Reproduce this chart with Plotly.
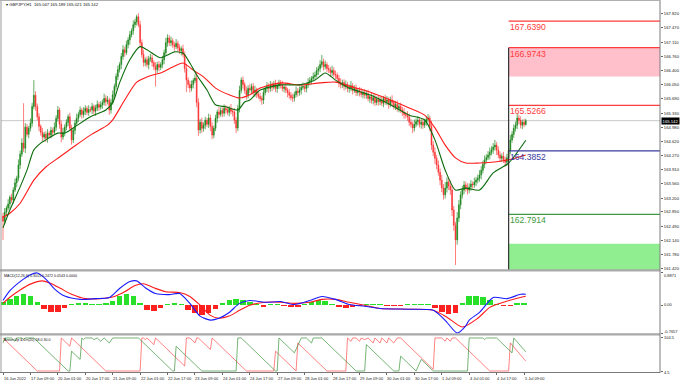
import plotly.graph_objects as go

# ---------------- data ----------------
bar_index = list(range(306))

opens = [
    162.75, 162.62, 162.85, 162.95, 163.05, 163.22, 163.15, 163.40, 163.58, 163.70,
    164.03, 164.30, 164.58, 164.45, 164.98, 164.80, 164.95, 165.08, 165.50, 165.78,
    165.50, 165.24, 165.00, 164.85, 164.73, 164.80, 164.70, 164.83, 164.78, 164.90,
    164.85, 164.98, 165.20, 165.41, 165.05, 164.73, 164.85, 164.98, 165.10, 165.24,
    164.95, 164.66, 164.90, 165.08, 165.20, 165.30, 165.41, 165.30, 165.38, 165.45,
    165.35, 165.42, 165.41, 165.50, 165.38, 165.46, 165.55, 165.48, 165.54, 165.60,
    165.70, 165.62, 165.66, 165.41, 165.60, 165.79, 166.00, 166.25, 166.42, 166.55,
    166.75, 166.92, 166.85, 167.05, 167.17, 167.30, 167.40, 167.55, 167.62, 167.75,
    167.55, 167.10, 166.80, 166.60, 166.67, 166.55, 166.70, 166.72, 166.60, 166.50,
    166.42, 166.55, 166.48, 166.55, 166.67, 166.85, 167.10, 167.22, 167.10, 167.15,
    167.04, 167.00, 167.08, 166.97, 166.90, 166.95, 166.80, 166.45, 166.16, 166.05,
    165.96, 166.05, 166.15, 166.21, 165.60, 164.91, 165.10, 164.95, 165.03, 165.15,
    165.05, 165.21, 165.00, 164.78, 164.95, 165.20, 165.36, 165.30, 165.40, 165.33,
    165.45, 165.41, 165.35, 165.45, 165.38, 165.36, 165.15, 164.96, 165.45, 165.90,
    166.16, 166.05, 165.90, 165.79, 165.95, 165.91, 166.00, 165.85, 165.91, 165.80,
    165.75, 165.70, 165.66, 165.85, 165.95, 166.00, 165.95, 166.04, 165.98, 166.05,
    165.95, 166.02, 166.08, 166.04, 165.95, 165.98, 165.91, 165.85, 165.78, 165.72,
    165.71, 165.80, 165.88, 165.85, 165.91, 165.98, 166.00, 165.95, 166.04, 166.10,
    166.15, 166.20, 166.25, 166.29, 166.40, 166.45, 166.55, 166.62, 166.50, 166.55,
    166.45, 166.42, 166.35, 166.40, 166.30, 166.29, 166.20, 166.10, 166.04, 166.10,
    166.00, 166.05, 165.95, 165.96, 166.02, 165.90, 165.95, 165.85, 165.90, 165.86,
    165.80, 165.85, 165.78, 165.82, 165.70, 165.74, 165.65, 165.72, 165.60, 165.68,
    165.62, 165.66, 165.58, 165.70, 165.62, 165.66, 165.55, 165.66, 165.60, 165.50,
    165.55, 165.45, 165.50, 165.41, 165.35, 165.30, 165.28, 165.24, 165.10, 165.05,
    164.96, 165.05, 165.12, 165.16, 165.05, 165.10, 165.03, 165.12, 165.18, 165.21,
    165.00, 164.53, 164.35, 164.20, 164.03, 163.85, 163.65, 163.45, 163.28, 163.45,
    163.60, 163.50, 163.40, 162.90, 162.52, 162.15, 162.70, 163.03, 163.28, 163.40,
    163.53, 163.45, 163.40, 163.48, 163.55, 163.53, 163.60, 163.65, 163.70, 163.78,
    163.90, 164.05, 164.16, 164.22, 164.28, 164.35, 164.41, 164.48, 164.53, 164.40,
    164.28, 164.20, 164.25, 164.16, 164.10, 164.21, 164.40, 164.66, 164.80, 164.95,
    165.03, 165.21, 165.15, 165.03, 165.10, 165.047,
]

closes = [
    162.62, 162.85, 162.95, 163.05, 163.22, 163.15, 163.40, 163.58, 163.70, 164.03,
    164.30, 164.58, 164.45, 164.98, 164.80, 164.95, 165.08, 165.50, 165.78, 165.50,
    165.24, 165.00, 164.85, 164.73, 164.80, 164.70, 164.83, 164.78, 164.90, 164.85,
    164.98, 165.20, 165.41, 165.05, 164.73, 164.85, 164.98, 165.10, 165.24, 164.95,
    164.66, 164.90, 165.08, 165.20, 165.30, 165.41, 165.30, 165.38, 165.45, 165.35,
    165.42, 165.41, 165.50, 165.38, 165.46, 165.55, 165.48, 165.54, 165.60, 165.70,
    165.62, 165.66, 165.41, 165.60, 165.79, 166.00, 166.25, 166.42, 166.55, 166.75,
    166.92, 166.85, 167.05, 167.17, 167.30, 167.40, 167.55, 167.62, 167.75, 167.55,
    167.10, 166.80, 166.60, 166.67, 166.55, 166.70, 166.72, 166.60, 166.50, 166.42,
    166.55, 166.48, 166.55, 166.67, 166.85, 167.10, 167.22, 167.10, 167.15, 167.04,
    167.00, 167.08, 166.97, 166.90, 166.95, 166.80, 166.45, 166.16, 166.05, 165.96,
    166.05, 166.15, 166.21, 165.60, 164.91, 165.10, 164.95, 165.03, 165.15, 165.05,
    165.21, 165.00, 164.78, 164.95, 165.20, 165.36, 165.30, 165.40, 165.33, 165.45,
    165.41, 165.35, 165.45, 165.38, 165.36, 165.15, 164.96, 165.45, 165.90, 166.16,
    166.05, 165.90, 165.79, 165.95, 165.91, 166.00, 165.85, 165.91, 165.80, 165.75,
    165.70, 165.66, 165.85, 165.95, 166.00, 165.95, 166.04, 165.98, 166.05, 165.95,
    166.02, 166.08, 166.04, 165.95, 165.98, 165.91, 165.85, 165.78, 165.72, 165.71,
    165.80, 165.88, 165.85, 165.91, 165.98, 166.00, 165.95, 166.04, 166.10, 166.15,
    166.20, 166.25, 166.29, 166.40, 166.45, 166.55, 166.62, 166.50, 166.55, 166.45,
    166.42, 166.35, 166.40, 166.30, 166.29, 166.20, 166.10, 166.04, 166.10, 166.00,
    166.05, 165.95, 165.96, 166.02, 165.90, 165.95, 165.85, 165.90, 165.86, 165.80,
    165.85, 165.78, 165.82, 165.70, 165.74, 165.65, 165.72, 165.60, 165.68, 165.62,
    165.66, 165.58, 165.70, 165.62, 165.66, 165.55, 165.66, 165.60, 165.50, 165.55,
    165.45, 165.50, 165.41, 165.35, 165.30, 165.28, 165.24, 165.10, 165.05, 164.96,
    165.05, 165.12, 165.16, 165.05, 165.10, 165.03, 165.12, 165.18, 165.21, 165.00,
    164.53, 164.35, 164.20, 164.03, 163.85, 163.65, 163.45, 163.28, 163.45, 163.60,
    163.50, 163.40, 162.90, 162.52, 162.15, 162.70, 163.03, 163.28, 163.40, 163.53,
    163.45, 163.40, 163.48, 163.55, 163.53, 163.60, 163.65, 163.70, 163.78, 163.90,
    164.05, 164.16, 164.22, 164.28, 164.35, 164.41, 164.48, 164.53, 164.40, 164.28,
    164.20, 164.25, 164.16, 164.10, 164.21, 164.40, 164.66, 164.80, 164.95, 165.03,
    165.21, 165.15, 165.03, 165.10, 165.047, 165.142,
]

# wick lengths above / below the candle body, in hundredths of a yen
upper_wick = [
    8, 10, 6, 12, 5, 9, 7, 11, 6, 14, 9, 12, 100, 10, 8, 6, 12, 9, 38, 10,
    7, 9, 5, 11, 6, 8, 10, 5, 9, 7, 12, 8, 10, 6, 9, 11, 7, 8, 6, 10,
    9, 6, 8, 12, 7, 9, 5, 10, 8, 6, 11, 7, 9, 5, 8, 10, 6, 9, 7, 12,
    8, 10, 6, 9, 11, 7, 8, 10, 6, 9, 12, 8, 10, 7, 9, 6, 11, 8, 5, 9,
    10, 8, 12, 6, 9, 7, 10, 8, 6, 11, 7, 9, 6, 10, 8, 12, 9, 7, 10, 6,
    8, 11, 7, 9, 6, 10, 8, 12, 7, 9, 10, 6, 9, 14, 10, 8, 12, 7, 9, 6,
    11, 8, 10, 7, 9, 6, 12, 8, 7, 10, 8, 9, 6, 11, 7, 10, 8, 9, 12, 7,
    9, 6, 10, 8, 12, 7, 9, 11, 6, 8, 10, 7, 9, 6, 11, 8, 10, 7, 9, 12,
    6, 9, 8, 10, 7, 11, 6, 9, 8, 10, 7, 12, 8, 9, 6, 10, 8, 7, 11, 9,
    6, 10, 8, 9, 7, 11, 17, 8, 10, 6, 9, 7, 12, 8, 10, 6, 9, 11, 7, 8,
    10, 6, 9, 12, 7, 8, 10, 6, 9, 11, 7, 9, 8, 10, 6, 12, 8, 9, 7, 10,
    8, 11, 6, 9, 10, 7, 8, 12, 6, 9, 10, 7, 9, 8, 11, 6, 10, 8, 9, 7,
    12, 8, 10, 6, 9, 11, 7, 8, 10, 6, 14, 10, 12, 8, 11, 9, 13, 10, 15, 12,
    10, 14, 12, 10, 8, 15, 12, 9, 11, 10, 8, 12, 9, 10, 7, 11, 8, 9, 12, 10,
    9, 11, 8, 10, 12, 9, 10, 13, 8, 10, 9, 7, 11, 8, 10, 9, 12, 8, 10, 9,
    11, 8, 10, 7, 9, 5,
]
lower_wick = [
    47, 8, 10, 6, 12, 7, 9, 5, 11, 8, 10, 7, 9, 12, 6, 10, 8, 9, 7, 11,
    9, 12, 8, 10, 6, 9, 11, 7, 8, 10, 6, 9, 8, 11, 13, 7, 10, 8, 9, 6,
    12, 8, 10, 7, 9, 6, 11, 8, 10, 7, 9, 6, 10, 8, 12, 7, 9, 6, 10, 8,
    11, 7, 12, 9, 6, 10, 8, 9, 7, 11, 8, 10, 6, 9, 12, 7, 10, 8, 9, 6,
    11, 8, 10, 9, 7, 12, 8, 10, 9, 42, 8, 10, 7, 9, 11, 6, 10, 8, 9, 7,
    10, 6, 9, 8, 12, 7, 10, 30, 9, 11, 8, 10, 6, 12, 15, 9, 11, 8, 10, 7,
    9, 12, 10, 8, 7, 11, 9, 6, 10, 8, 9, 7, 10, 8, 11, 9, 13, 8, 10, 7,
    10, 8, 12, 9, 7, 10, 8, 11, 9, 6, 8, 12, 10, 7, 9, 11, 8, 10, 6, 9,
    11, 8, 9, 7, 10, 8, 12, 9, 7, 10, 9, 7, 10, 8, 11, 6, 9, 10, 8, 7,
    10, 8, 9, 7, 11, 9, 8, 10, 7, 9, 8, 11, 9, 7, 10, 8, 12, 9, 8, 10,
    7, 9, 11, 8, 10, 6, 9, 8, 11, 7, 10, 8, 9, 7, 11, 8, 10, 9, 7, 10,
    9, 7, 10, 8, 9, 11, 7, 10, 8, 9, 8, 10, 7, 9, 11, 8, 10, 9, 8, 13,
    9, 7, 10, 8, 11, 9, 7, 10, 8, 12, 12, 10, 14, 11, 9, 13, 10, 12, 9, 11,
    10, 12, 15, 14, 63, 12, 10, 11, 9, 10, 9, 11, 8, 10, 9, 7, 10, 8, 9, 11,
    8, 10, 9, 7, 11, 8, 10, 9, 12, 8, 10, 9, 8, 11, 9, 8, 10, 7, 9, 8,
    10, 9, 8, 10, 7, 3,
]

# moving averages (sampled along the lines)
ma_fast_bars = [0, 4, 10, 14, 18, 22, 25, 32, 36, 41, 51, 60, 64, 68, 74, 80, 84, 92, 96, 100,
                105, 109, 113, 119, 124, 130, 137, 141, 144, 150, 162, 173, 182, 188, 194, 202,
                214, 226, 237, 246, 252, 258, 264, 270, 278, 286, 295, 305]
ma_fast_vals = [162.45, 162.90, 163.48, 163.90, 164.41, 164.58, 164.66, 164.83, 164.83, 164.96,
                165.24, 165.41, 165.59, 166.09, 166.67, 167.00, 166.92, 166.72, 166.79, 166.87,
                166.84, 166.59, 166.29, 165.91, 165.54, 165.49, 165.41, 165.61, 165.66, 165.91,
                166.04, 166.04, 166.16, 166.34, 166.16, 165.96, 165.79, 165.54, 165.28, 165.16,
                164.66, 163.90, 163.40, 163.45, 163.40, 163.83, 164.08, 164.65]
ma_slow_bars = [0, 4, 10, 18, 25, 33, 41, 51, 61, 64, 71, 78, 84, 93, 99, 105, 111, 117, 124, 132,
                138, 144, 150, 162, 173, 185, 194, 202, 214, 226, 237, 246, 252, 258, 264, 270,
                278, 288, 295, 305]
ma_slow_vals = [162.72, 162.82, 163.07, 163.65, 163.98, 164.23, 164.48, 164.78, 165.03, 165.16,
                165.66, 166.11, 166.24, 166.36, 166.49, 166.59, 166.41, 166.24, 165.96, 165.79,
                165.71, 165.79, 165.96, 166.09, 166.04, 166.09, 166.11, 166.01, 165.86, 165.66,
                165.46, 165.28, 164.96, 164.53, 164.21, 164.08, 164.08, 164.11, 164.16, 164.28]

# MACD(12,26,9)
macd_bars = [0, 4, 10, 16, 20, 25, 30, 36, 45, 54, 62, 68, 74, 78, 83, 89, 97, 103, 109, 115,
             121, 126, 132, 138, 144, 153, 162, 170, 179, 186, 194, 202, 211, 220, 237, 251,
             255, 259, 265, 270, 272, 278, 286, 294, 302, 305]
macd_vals = [0.13, 0.40, 0.65, 0.84, 0.887, 0.72, 0.45, 0.25, 0.16, 0.18, 0.21, 0.46, 0.65, 0.67,
             0.48, 0.32, 0.29, 0.32, 0.05, -0.30, -0.41, -0.36, -0.20, 0.05, 0.13, 0.08, 0.10,
             0.02, 0.13, 0.24, 0.16, 0.02, -0.03, -0.09, -0.11, -0.14, -0.28, -0.47, -0.7657,
             -0.57, -0.41, -0.20, 0.21, 0.18, 0.30, 0.3015]
signal_bars = [0, 4, 10, 16, 23, 28, 34, 40, 48, 57, 65, 71, 77, 82, 88, 95, 103, 109, 115, 121,
               126, 132, 138, 144, 153, 162, 170, 179, 186, 194, 202, 211, 220, 237, 251, 259,
               268, 277, 284, 292, 299, 305]
signal_vals = [0.05, 0.22, 0.42, 0.58, 0.67, 0.60, 0.45, 0.30, 0.18, 0.18, 0.24, 0.37, 0.54, 0.59,
               0.48, 0.37, 0.35, 0.24, 0.00, -0.28, -0.36, -0.30, -0.14, 0.00, 0.08, 0.08, 0.05,
               0.08, 0.16, 0.16, 0.08, 0.00, -0.09, -0.11, -0.14, -0.33, -0.60, -0.36, -0.06,
               0.08, 0.18, 0.2472]
hist_bars = list(range(0, 305, 4))
hist_vals = [0.10, 0.18, 0.25, 0.30, 0.25, 0.08, -0.10, -0.20, -0.18, -0.08,
             0.02, 0.05, 0.06, 0.04, 0.03, 0.06, 0.12, 0.25, 0.32, 0.25,
             0.05, -0.12, -0.15, -0.08, 0.04, 0.06, 0.02, -0.12, -0.22, -0.28,
             -0.22, -0.10, 0.05, 0.14, 0.17, 0.15, 0.08, 0.02, -0.04, 0.03,
             0.04, -0.02, -0.06, -0.04, 0.04, 0.10, 0.14, 0.12, 0.02, -0.06,
             -0.08, -0.06, -0.03, 0.02, 0.03, 0.02, -0.02, -0.03, -0.02, 0.02,
             0.03, 0.03, 0.02, -0.08, -0.18, -0.24, -0.22, 0.05, 0.26, 0.25,
             0.22, 0.15, 0.02, -0.03, -0.03, 0.06, 0.06]

# Aroon (vertices of the saw-tooth lines)
aroon_up_bars = [0, 1, 5, 7, 8, 11, 12, 13, 18, 38, 39, 40, 45, 46, 47, 48, 52, 53, 55, 57,
                 59, 61, 62, 64, 79, 99, 100, 101, 116, 136, 137, 139, 159, 160, 161, 166, 170,
                 174, 177, 180, 181, 186, 206, 211, 212, 228, 231, 232, 241, 244, 251, 271, 272,
                 280, 281, 282, 288, 296, 297, 298, 305]
aroon_up_vals = [85, 100, 100, 90, 100, 100, 95, 100, 100, 0, 0, 60, 35, 100, 95, 100, 100, 95,
                 100, 90, 100, 90, 85, 100, 100, 0, 0, 75, 0, 0, 100, 100, 0, 0, 100, 75, 55,
                 100, 100, 85, 100, 100, 0, 0, 80, 0, 0, 45, 0, 35, 0, 0, 100, 100, 95, 100,
                 100, 60, 55, 100, 58]
aroon_dn_bars = [0, 20, 33, 34, 39, 40, 60, 80, 81, 82, 83, 84, 88, 89, 106, 107, 109, 112,
                 113, 114, 121, 122, 142, 158, 159, 171, 172, 189, 200, 201, 203, 204, 206, 208,
                 209, 211, 213, 216, 217, 220, 221, 224, 225, 228, 230, 232, 251, 252, 256, 258,
                 259, 261, 262, 264, 284, 295, 296, 305]
aroon_dn_vals = [100, 0, 0, 100, 75, 100, 0, 0, 100, 100, 95, 100, 80, 100, 15, 100, 100, 85,
                 100, 100, 65, 100, 0, 0, 60, 0, 85, 0, 0, 100, 90, 100, 100, 90, 100, 95, 100,
                 85, 100, 85, 100, 85, 100, 85, 100, 100, 5, 100, 100, 90, 100, 90, 100, 100,
                 0, 0, 85, 30]

# axis labels
time_tick_bars = [0, 16, 32, 48, 64, 80, 96, 112, 128, 144, 160, 176, 192, 208, 224, 240, 256,
                  272, 288, 304]
time_tick_labels = ["16 Jun 2022", "17 Jun 09:00", "20 Jun 01:00", "20 Jun 17:00",
                    "21 Jun 09:00", "22 Jun 01:00", "22 Jun 17:00", "23 Jun 09:00",
                    "24 Jun 01:00", "24 Jun 17:00", "27 Jun 09:00", "28 Jun 01:00",
                    "28 Jun 17:00", "29 Jun 09:00", "30 Jun 01:00", "30 Jun 17:00",
                    "1 Jul 09:00", "4 Jul 01:00", "4 Jul 17:00", "5 Jul 09:00"]
price_ticks = [167.820, 167.470, 167.110, 166.760, 166.400, 166.050, 165.690, 165.330, 164.980,
               164.620, 164.270, 163.910, 163.560, 163.200, 162.850, 162.490, 162.140, 161.780,
               161.420]

# levels drawn from the start of 5 Jul
level_start_bar = 295
level_values = [167.6390, 166.9743, 165.5266, 164.3852, 162.7914]
level_colors = ["#ff3b3b", "#ff3b3b", "#ff3b3b", "#3a3aa0", "#3f9a3f"]
pink_zone = [166.25, 166.9743]
green_zone = [160.50, 162.05]
last_price = 165.142

# ---------------- geometry helpers ----------------
W, H = 680, 385
ML, MR, MT, MB = 1, 20, 1, 12
PW, PH = W - ML - MR, H - MT - MB
BOTTOM = H - MB
PX_PER_BAR = 1.714
X0 = 3


def ypap(ypx):
    return (BOTTOM - ypx) / PH


def xpap(xpx):
    return (xpx - ML) / PW


def dom(top_px, bot_px):
    return [ypap(bot_px), ypap(top_px)]


x_range = [(ML - X0) / PX_PER_BAR, (ML + PW - X0) / PX_PER_BAR]
main_range = [161.394, 168.146]
macd_range = [-0.793, 0.914]
aroon_range = [-3, 106]

highs = [round(max(o, c) + u / 100, 3) for o, c, u in zip(opens, closes, upper_wick)]
lows = [round(min(o, c) - d / 100, 3) for o, c, d in zip(opens, closes, lower_wick)]

FONT = "Liberation Sans, Arial, sans-serif"

fig = go.Figure()

fig.add_trace(go.Candlestick(
    x=bar_index, open=opens, high=highs, low=lows, close=closes,
    increasing=dict(line=dict(color="rgba(25,135,25,0.85)", width=0.8),
                    fillcolor="rgba(10,110,10,0.95)"),
    decreasing=dict(line=dict(color="rgba(255,50,50,0.8)", width=0.8),
                    fillcolor="rgba(240,20,20,0.95)"),
    whiskerwidth=0, xaxis="x", yaxis="y", hoverinfo="skip"))
fig.add_trace(go.Scatter(x=ma_slow_bars, y=ma_slow_vals, mode="lines",
                         line=dict(color="#ff1a1a", width=1.1, shape="spline", smoothing=0.7),
                         xaxis="x", yaxis="y", hoverinfo="skip"))
fig.add_trace(go.Scatter(x=ma_fast_bars, y=ma_fast_vals, mode="lines",
                         line=dict(color="#0b6b0b", width=1.1, shape="spline", smoothing=0.7),
                         xaxis="x", yaxis="y", hoverinfo="skip"))

hist_colors = ["#27e027" if v >= 0 else "#ff2020" for v in hist_vals]
fig.add_trace(go.Bar(x=hist_bars, y=hist_vals, width=3.2,
                     marker=dict(color=hist_colors, line=dict(width=0)),
                     xaxis="x", yaxis="y2", hoverinfo="skip"))
fig.add_trace(go.Scatter(x=signal_bars, y=signal_vals, mode="lines",
                         line=dict(color="#ff1a1a", width=1.1, shape="spline", smoothing=0.7),
                         xaxis="x", yaxis="y2", hoverinfo="skip"))
fig.add_trace(go.Scatter(x=macd_bars, y=macd_vals, mode="lines",
                         line=dict(color="#1a1aff", width=1.1, shape="spline", smoothing=0.7),
                         xaxis="x", yaxis="y2", hoverinfo="skip"))

fig.add_trace(go.Scatter(x=aroon_dn_bars, y=aroon_dn_vals, mode="lines",
                         line=dict(color="rgba(255,70,70,0.75)", width=0.9),
                         xaxis="x", yaxis="y3", hoverinfo="skip"))
fig.add_trace(go.Scatter(x=aroon_up_bars, y=aroon_up_vals, mode="lines",
                         line=dict(color="rgba(50,145,50,0.75)", width=0.9),
                         xaxis="x", yaxis="y3", hoverinfo="skip"))

shapes = []
# zones
shapes.append(dict(type="rect", xref="x", yref="y", x0=level_start_bar, x1=x_range[1],
                   y0=pink_zone[0], y1=pink_zone[1], fillcolor="#ffc0cb", line=dict(width=0),
                   layer="below"))
shapes.append(dict(type="rect", xref="x", yref="y", x0=level_start_bar, x1=x_range[1],
                   y0=green_zone[0], y1=green_zone[1], fillcolor="#90ee90", line=dict(width=0),
                   layer="below"))
# current price line
shapes.append(dict(type="line", xref="x", yref="y", x0=x_range[0], x1=x_range[1],
                   y0=last_price, y1=last_price, line=dict(color="#c8c8c8", width=1),
                   layer="below"))
# level lines
for v, c in zip(level_values, level_colors):
    shapes.append(dict(type="line", xref="x", yref="y", x0=level_start_bar, x1=x_range[1],
                       y0=v, y1=v, line=dict(color=c, width=1.2)))
# vertical start line
shapes.append(dict(type="line", xref="x", yref="y", x0=level_start_bar, x1=level_start_bar,
                   y0=main_range[0], y1=level_values[1], line=dict(color="#333333", width=1.2)))
# frame and panel separators
for y0px, y1px in [(269.3, 271.6), (333.3, 335.6)]:
    shapes.append(dict(type="rect", xref="paper", yref="paper", x0=xpap(0), x1=xpap(660),
                       y0=ypap(y1px), y1=ypap(y0px), fillcolor="#a9a9a9", line=dict(width=0)))
shapes.append(dict(type="line", xref="paper", yref="paper", x0=xpap(1), x1=xpap(1),
                   y0=ypap(373), y1=ypap(0), line=dict(color="#9a9a9a", width=1)))
shapes.append(dict(type="line", xref="paper", yref="paper", x0=xpap(660), x1=xpap(660),
                   y0=ypap(373), y1=ypap(0), line=dict(color="#7a7a7a", width=1)))
shapes.append(dict(type="line", xref="paper", yref="paper", x0=xpap(0), x1=xpap(660),
                   y0=ypap(372.5), y1=ypap(372.5), line=dict(color="#7a7a7a", width=1)))
shapes.append(dict(type="line", xref="paper", yref="paper", x0=xpap(0), x1=xpap(660),
                   y0=ypap(0.5), y1=ypap(0.5), line=dict(color="#b0b0b0", width=1)))

ann = []
# level labels
for v, c in zip(level_values, level_colors):
    ann.append(dict(x=level_start_bar, y=v, xref="x", yref="y", text=f"{v:.4f}",
                    showarrow=False, xanchor="left", yanchor="top", xshift=-1, yshift=1,
                    font=dict(family=FONT, size=8.6, color=c)))
# time labels
for b, t in zip(time_tick_bars, time_tick_labels):
    ann.append(dict(x=b, y=ypap(378.5), xref="x", yref="paper", text=t, showarrow=False,
                    xanchor="left", yanchor="middle", xshift=-1.5,
                    font=dict(family=FONT, size=4, color="#222")))
# panel titles
ann.append(dict(x=xpap(4), y=ypap(5), xref="paper", yref="paper",
                text="▾ GBPJPY,H1  165.047 165.189 165.021 165.142", showarrow=False,
                xanchor="left", yanchor="middle", font=dict(family=FONT, size=4.2, color="#111")))
ann.append(dict(x=xpap(2), y=ypap(275.5), xref="paper", yref="paper",
                text="MACD(12,26,9) 0.3015 0.2472 0.0543 0.0000", showarrow=False,
                xanchor="left", yanchor="middle", font=dict(family=FONT, size=3.6, color="#111")))
ann.append(dict(x=xpap(2), y=ypap(339.5), xref="paper", yref="paper",
                text="Aroon Up & Dn(20) 58.0 30.0", showarrow=False,
                xanchor="left", yanchor="middle", font=dict(family=FONT, size=3.6, color="#111")))
# sub-panel scale labels
for txt, ypx in [("0.8871", 275), ("0.00", 304), ("-0.7657", 331.5), ("104.5", 337.5), ("4.5", 372.5)]:
    ann.append(dict(x=xpap(661.5), y=ypap(ypx), xref="paper", yref="paper", text=txt,
                    showarrow=False, xanchor="left", yanchor="middle",
                    font=dict(family=FONT, size=4, color="#222")))
# current price box
ann.append(dict(x=xpap(660.5), y=last_price, xref="paper", yref="y", text="165.142",
                showarrow=False, xanchor="left", yanchor="middle", bgcolor="#000000",
                borderpad=0.6, font=dict(family=FONT, size=4.2, color="#ffffff")))

fig.update_layout(
    width=W, height=H, margin=dict(l=ML, r=MR, t=MT, b=MB),
    paper_bgcolor="white", plot_bgcolor="white", showlegend=False, bargap=0,
    font=dict(family=FONT, size=4.2, color="#222"),
    shapes=shapes, annotations=ann,
    xaxis=dict(range=x_range, anchor="y3", showgrid=False, zeroline=False,
               showticklabels=False, ticks="outside", ticklen=2, tickwidth=1,
               tickcolor="#666", tickvals=time_tick_bars, rangeslider=dict(visible=False),
               showline=False, fixedrange=True),
    yaxis=dict(domain=dom(1, 270), range=main_range, side="right", anchor="x",
               tickvals=price_ticks, ticktext=[f"{v:.3f}" for v in price_ticks],
               ticks="outside", ticklen=2, tickwidth=1, tickcolor="#666",
               showgrid=False, zeroline=False, showline=False,
               tickfont=dict(family=FONT, size=4.2, color="#222")),
    yaxis2=dict(domain=dom(272, 334), range=macd_range, side="right", anchor="x",
                showticklabels=False, ticks="outside", ticklen=2, tickcolor="#666",
                tickvals=[0.8871, 0, -0.7657], showgrid=False, zeroline=False),
    yaxis3=dict(domain=dom(336, 372), range=aroon_range, side="right", anchor="x",
                showticklabels=False, ticks="outside", ticklen=2, tickcolor="#666",
                tickvals=[100, 0], showgrid=False, zeroline=False),
)

fig.write_html(
    "out.html",
    config={"displayModeBar": False, "staticPlot": True},
    post_script="document.body.style.margin='0';document.body.style.padding='0';"
                "document.body.style.overflow='hidden';",
)
